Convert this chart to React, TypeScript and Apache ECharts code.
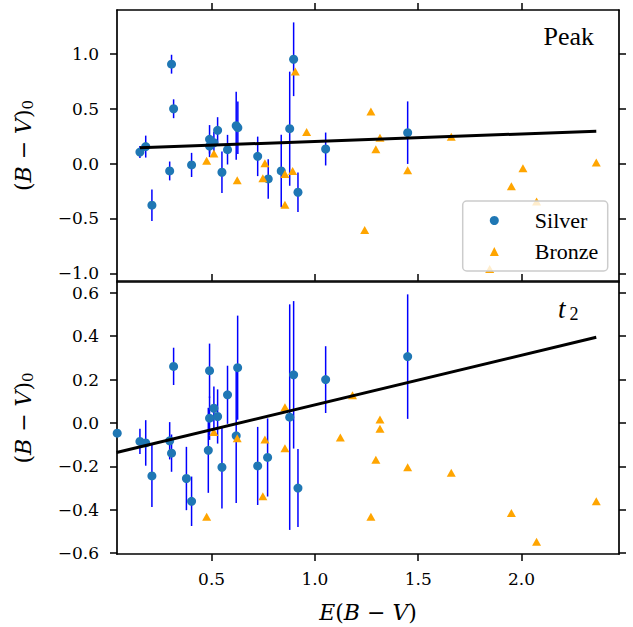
import React, { useEffect, useRef } from 'react';
import * as echarts from 'echarts';

// ---- tick values ----
const xTicks = [0.5, 1.0, 1.5, 2.0];
const topYTicks = [-1.0, -0.5, 0.0, 0.5, 1.0];
const botYTicks = [-0.6, -0.4, -0.2, 0.0, 0.2, 0.4, 0.6];

// ---- top panel (Peak) ----
const topSilverX = [0.153, 0.181, 0.211, 0.297, 0.306, 0.316, 0.403, 0.490, 0.490, 0.511, 0.529, 0.550, 0.577, 0.619, 0.627, 0.723, 0.774, 0.837, 0.878, 0.897, 0.918, 1.052, 1.449];
const topSilverY = [0.105, 0.155, -0.379, -0.067, 0.906, 0.500, -0.012, 0.221, 0.160, 0.190, 0.303, -0.079, 0.127, 0.345, 0.327, 0.066, -0.140, -0.067, 0.318, 0.951, -0.261, 0.133, 0.282];
const topSilverErr = [0.055, 0.10, 0.144, 0.086, 0.086, 0.086, 0.11, 0.13, 0.10, 0.10, 0.12, 0.19, 0.135, 0.31, 0.24, 0.18, 0.18, 0.33, 0.52, 0.336, 0.18, 0.15, 0.285];
const topBronzeX = [0.476, 0.511, 0.624, 0.748, 0.758, 0.855, 0.855, 0.892, 0.905, 0.960, 1.241, 1.271, 1.295, 1.315, 1.449, 1.660, 1.846, 1.951, 2.007, 2.073, 2.362];
const topBronzeY = [0.027, 0.091, -0.152, -0.134, 0.003, -0.094, -0.376, -0.067, 0.839, 0.287, -0.606, 0.475, 0.130, 0.236, -0.061, 0.245, -0.961, -0.206, -0.043, -0.346, 0.009];
const topFitX = [0.153, 2.362];
const topFitY = [0.144, 0.295];

// ---- bottom panel (t2) ----
const botSilverX = [0.043, 0.153, 0.181, 0.211, 0.297, 0.306, 0.316, 0.378, 0.403, 0.484, 0.490, 0.490, 0.511, 0.529, 0.550, 0.577, 0.619, 0.626, 0.723, 0.771, 0.878, 0.897, 0.918, 1.052, 1.449];
const botSilverY = [-0.047, -0.085, -0.092, -0.244, -0.082, -0.139, 0.261, -0.256, -0.361, -0.126, 0.241, 0.022, 0.068, 0.030, -0.204, 0.130, -0.059, 0.255, -0.198, -0.159, 0.027, 0.222, -0.300, 0.200, 0.306];
const botSilverErr = [0.0, 0.058, 0.105, 0.143, 0.086, 0.086, 0.086, 0.146, 0.114, 0.196, 0.125, 0.10, 0.10, 0.125, 0.19, 0.134, 0.31, 0.24, 0.18, 0.18, 0.52, 0.34, 0.18, 0.154, 0.287];
const botBronzeX = [0.476, 0.511, 0.624, 0.748, 0.758, 0.855, 0.855, 1.123, 1.182, 1.271, 1.295, 1.315, 1.315, 1.449, 1.660, 1.951, 2.073, 2.362];
const botBronzeY = [-0.432, -0.041, -0.070, -0.338, -0.076, -0.116, 0.073, -0.067, 0.128, -0.432, -0.170, 0.016, -0.027, -0.204, -0.229, -0.415, -0.547, -0.361];
const botFitX = [0.040, 2.362];
const botFitY = [-0.136, 0.395];

const X_MIN = 0.042, X_MAX = 2.472;
const TOP_MIN = -1.07, TOP_MAX = 1.40;
const BOT_MIN = -0.604, BOT_MAX = 0.65;

const SERIF = '"DejaVu Serif", serif';
const TIMES = '"Liberation Serif", serif';

const fmtY = (v: number) => (v < 0 ? '\u2212' : '') + Math.abs(v).toFixed(1);

const axisLine = { show: true, onZero: false, lineStyle: { color: '#000', width: 1.7 } };
const tickStyle = { color: '#000', width: 1.5 };

function errSeries(xs: number[], ys: number[], es: number[], xi: number, yi: number, lo: number, hi: number) {
  return {
    type: 'custom',
    xAxisIndex: xi,
    yAxisIndex: yi,
    z: 2,
    silent: true,
    encode: { x: 0, y: 1 },
    data: xs.map((x, i) => [x, ys[i], es[i]]),
    renderItem: (params: any, api: any) => {
      const x = api.value(0), y = api.value(1), e = api.value(2);
      if (!e) return null;
      const p1 = api.coord([x, Math.max(y - e, lo)]);
      const p2 = api.coord([x, Math.min(y + e, hi)]);
      return {
        type: 'line',
        shape: { x1: p1[0], y1: p1[1], x2: p2[0], y2: p2[1] },
        style: { stroke: '#0000ff', lineWidth: 1.5 },
      };
    },
  };
}

const yName = '{n|(}{i|B}{n| \u2212 }{i|V}{n|)}{s|0}';
const nameRich = {
  n: { fontFamily: SERIF, fontSize: 22, lineHeight: 24, color: '#000' },
  i: { fontFamily: SERIF, fontStyle: 'italic', fontSize: 22, lineHeight: 24, color: '#000' },
  s: { fontFamily: SERIF, fontSize: 15, lineHeight: 8, verticalAlign: 'bottom', color: '#000' },
};

export default function App() {
  const ref = useRef<HTMLDivElement>(null);
  useEffect(() => {
    if (!ref.current) return;
    const chart = echarts.init(ref.current, undefined, { renderer: 'svg' });
    const option: any = {
      animation: false,
      backgroundColor: '#fff',
      grid: [
        { left: 117, top: 10, width: 502, height: 271 },
        { left: 117, top: 282, width: 502, height: 272 },
      ],
      xAxis: [
        {
          gridIndex: 0, type: 'value', position: 'bottom', min: X_MIN, max: X_MAX,
          axisLine, axisTick: { show: true, inside: true, length: 7, lineStyle: tickStyle, customValues: xTicks },
          axisLabel: { show: false }, splitLine: { show: false },
        },
        {
          gridIndex: 0, type: 'value', position: 'top', min: X_MIN, max: X_MAX,
          axisLine, axisTick: { show: true, length: 7, lineStyle: tickStyle, customValues: xTicks },
          axisLabel: { show: false }, splitLine: { show: false },
        },
        {
          gridIndex: 1, type: 'value', position: 'bottom', min: X_MIN, max: X_MAX,
          axisLine, axisTick: { show: true, length: 7, lineStyle: tickStyle, customValues: xTicks },
          axisLabel: {
            show: true, customValues: xTicks, margin: 16, fontFamily: SERIF, fontSize: 17, color: '#000',
            formatter: (v: number) => v.toFixed(1),
          },
          splitLine: { show: false },
          name: '{i|E}{n|(}{i|B}{n| \u2212 }{i|V}{n|)}',
          nameLocation: 'middle', nameGap: 46,
          nameTextStyle: { rich: nameRich },
        },
        {
          gridIndex: 1, type: 'value', position: 'top', min: X_MIN, max: X_MAX,
          axisLine, axisTick: { show: false }, axisLabel: { show: false }, splitLine: { show: false },
        },
      ],
      yAxis: [
        {
          gridIndex: 0, type: 'value', position: 'left', min: TOP_MIN, max: TOP_MAX,
          axisLine, axisTick: { show: true, length: 7, lineStyle: tickStyle, customValues: topYTicks },
          axisLabel: { show: true, customValues: topYTicks, margin: 18, fontFamily: SERIF, fontSize: 17, color: '#000', formatter: fmtY },
          splitLine: { show: false },
          name: yName, nameLocation: 'middle', nameGap: 82, nameRotate: 90,
          nameTextStyle: { rich: nameRich },
        },
        {
          gridIndex: 0, type: 'value', position: 'right', min: TOP_MIN, max: TOP_MAX,
          axisLine, axisTick: { show: true, length: 7, lineStyle: tickStyle, customValues: topYTicks },
          axisLabel: { show: false }, splitLine: { show: false },
        },
        {
          gridIndex: 1, type: 'value', position: 'left', min: BOT_MIN, max: BOT_MAX,
          axisLine, axisTick: { show: true, length: 7, lineStyle: tickStyle, customValues: botYTicks },
          axisLabel: { show: true, customValues: botYTicks, margin: 18, fontFamily: SERIF, fontSize: 17, color: '#000', formatter: fmtY },
          splitLine: { show: false },
          name: yName, nameLocation: 'middle', nameGap: 82, nameRotate: 90,
          nameTextStyle: { rich: nameRich },
        },
        {
          gridIndex: 1, type: 'value', position: 'right', min: BOT_MIN, max: BOT_MAX,
          axisLine, axisTick: { show: true, length: 7, lineStyle: tickStyle, customValues: botYTicks },
          axisLabel: { show: false }, splitLine: { show: false },
        },
      ],
      legend: {
        data: ['Silver', 'Bronze'],
        orient: 'vertical',
        left: 489.8,
        top: 209.5,
        itemWidth: 9,
        itemHeight: 9,
        itemGap: 9,
        padding: 0,
        selectedMode: false,
        z: 20,
        textStyle: { fontFamily: TIMES, fontSize: 22, lineHeight: 22, color: '#000', padding: [0, 0, 0, 31] },
      },
      graphic: [
        {
          type: 'rect', z: 10, silent: true,
          shape: { x: 462.7, y: 201, width: 145, height: 70, r: 4 },
          style: { fill: 'rgba(255,255,255,0.8)', stroke: '#cccccc', lineWidth: 1.5 },
        },
        {
          type: 'text', z: 10, x: 594, y: 36.2,
          style: { text: 'Peak', font: '26px "Liberation Serif"', fill: '#000', align: 'right', verticalAlign: 'middle', textAlign: 'right', textVerticalAlign: 'middle' },
        },
        {
          type: 'text', z: 10, x: 558, y: 308.7,
          style: { text: 't', font: 'italic 27px "Liberation Serif"', fill: '#000', align: 'left', verticalAlign: 'middle', textAlign: 'left', textVerticalAlign: 'middle' },
        },
        {
          type: 'text', z: 10, x: 569.5, y: 313.9,
          style: { text: '2', font: '18px "Liberation Serif"', fill: '#000', align: 'left', verticalAlign: 'middle', textAlign: 'left', textVerticalAlign: 'middle' },
        },
      ],
      series: [
        errSeries(topSilverX, topSilverY, topSilverErr, 0, 0, TOP_MIN, TOP_MAX),
        {
          name: 'Silver', type: 'scatter', xAxisIndex: 0, yAxisIndex: 0, z: 3,
          symbol: 'circle', symbolSize: 9, itemStyle: { color: '#1f77b4', opacity: 1 },
          data: topSilverX.map((x, i) => [x, topSilverY[i]]),
        },
        {
          name: 'Bronze', type: 'scatter', xAxisIndex: 0, yAxisIndex: 0, z: 4,
          symbol: 'triangle', symbolSize: [9, 8], itemStyle: { color: '#ffa500', opacity: 1 },
          data: topBronzeX.map((x, i) => [x, topBronzeY[i]]),
        },
        {
          type: 'line', xAxisIndex: 0, yAxisIndex: 0, z: 5, symbol: 'none', silent: true,
          lineStyle: { color: '#000', width: 3 },
          data: topFitX.map((x, i) => [x, topFitY[i]]),
        },
        errSeries(botSilverX, botSilverY, botSilverErr, 2, 2, BOT_MIN, BOT_MAX),
        {
          name: 'Silver', type: 'scatter', xAxisIndex: 2, yAxisIndex: 2, z: 3,
          symbol: 'circle', symbolSize: 9, itemStyle: { color: '#1f77b4', opacity: 1 },
          data: botSilverX.map((x, i) => [x, botSilverY[i]]),
        },
        {
          name: 'Bronze', type: 'scatter', xAxisIndex: 2, yAxisIndex: 2, z: 4,
          symbol: 'triangle', symbolSize: [9, 8], itemStyle: { color: '#ffa500', opacity: 1 },
          data: botBronzeX.map((x, i) => [x, botBronzeY[i]]),
        },
        {
          type: 'line', xAxisIndex: 2, yAxisIndex: 2, z: 5, symbol: 'none', silent: true,
          lineStyle: { color: '#000', width: 3 },
          data: botFitX.map((x, i) => [x, botFitY[i]]),
        },
      ],
    };
    chart.setOption(option);
    return () => chart.dispose();
  }, []);
  return <div ref={ref} style={{ position: 'fixed', left: 0, top: 0, width: 633, height: 627 }} />;
}
